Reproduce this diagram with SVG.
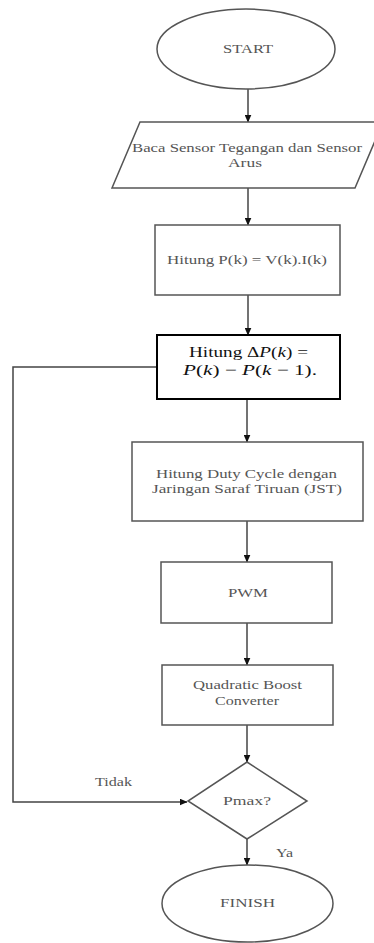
<svg xmlns="http://www.w3.org/2000/svg" width="374" height="943" viewBox="0 0 374 943">
<defs>
<marker id="ah" markerWidth="8" markerHeight="7" refX="7.5" refY="3.5" orient="auto" markerUnits="userSpaceOnUse">
<path d="M0,0 L8,3.5 L0,7 Z" fill="#111"/>
</marker>
<style>
.shape{fill:#fff;stroke:#555;stroke-width:1.5}
.bold{fill:#fff;stroke:#000;stroke-width:2}
.t{font-family:'Liberation Serif','Times New Roman','DejaVu Serif',serif;font-size:12px;fill:#555;text-anchor:middle}
.tb{font-family:'Liberation Serif','Times New Roman','DejaVu Serif',serif;font-size:15px;fill:#111;text-anchor:middle}
.c{fill:none;stroke:#444;stroke-width:1.5}
</style>
</defs>
<rect width="374" height="943" fill="#fff"/>
<g id="connectors">
<path class="c" d="M248,89 V122" marker-end="url(#ah)"/>
<path class="c" d="M248,188 V225" marker-end="url(#ah)"/>
<path class="c" d="M248,295 V335" marker-end="url(#ah)"/>
<path class="c" d="M247,399 V442" marker-end="url(#ah)"/>
<path class="c" d="M247,521 V562" marker-end="url(#ah)"/>
<path class="c" d="M247,623 V665" marker-end="url(#ah)"/>
<path class="c" d="M247,725 V762" marker-end="url(#ah)"/>
<path class="c" d="M247,839 V865" marker-end="url(#ah)"/>
<path class="c" d="M157,367 H13 V802 H187" marker-end="url(#ah)"/>
<text class="t" x="113.5" y="786" textLength="37" lengthAdjust="spacingAndGlyphs">Tidak</text>
<text class="t" x="284.5" y="857" textLength="17" lengthAdjust="spacingAndGlyphs">Ya</text>
</g>
<g id="start">
<ellipse class="shape" cx="246" cy="49" rx="89" ry="40"/>
<text class="t" x="248" y="53" textLength="50" lengthAdjust="spacingAndGlyphs">START</text>
</g>
<g id="input">
<polygon class="shape" points="140,122 383,122 355,188 112,188"/>
<text class="t" x="247" y="152" textLength="230" lengthAdjust="spacingAndGlyphs">Baca Sensor Tegangan dan Sensor</text>
<text class="t" x="245" y="167" textLength="34" lengthAdjust="spacingAndGlyphs">Arus</text>
</g>
<g id="power">
<rect class="shape" x="155" y="225" width="185" height="70"/>
<text class="t" x="247" y="264" textLength="160" lengthAdjust="spacingAndGlyphs">Hitung P(k) = V(k).I(k)</text>
</g>
<g id="deltap">
<rect class="bold" x="157" y="335" width="183" height="64"/>
<text class="tb" x="248.5" y="357" textLength="119" lengthAdjust="spacingAndGlyphs">Hitung Δ<tspan font-style="italic">P</tspan>(<tspan font-style="italic">k</tspan>) =</text>
<text class="tb" x="250" y="375" textLength="134" lengthAdjust="spacingAndGlyphs"><tspan font-style="italic">P</tspan>(<tspan font-style="italic">k</tspan>) − <tspan font-style="italic">P</tspan>(<tspan font-style="italic">k</tspan> − 1).</text>
</g>
<g id="duty">
<rect class="shape" x="132" y="442" width="231" height="79"/>
<text class="t" x="246.5" y="478" textLength="181" lengthAdjust="spacingAndGlyphs">Hitung Duty Cycle dengan</text>
<text class="t" x="247" y="493" textLength="190" lengthAdjust="spacingAndGlyphs">Jaringan Saraf Tiruan (JST)</text>
</g>
<g id="pwm">
<rect class="shape" x="161" y="562" width="171" height="61"/>
<text class="t" x="248" y="597" textLength="40" lengthAdjust="spacingAndGlyphs">PWM</text>
</g>
<g id="qbc">
<rect class="shape" x="162" y="665" width="171" height="60"/>
<text class="t" x="247.5" y="689" textLength="109" lengthAdjust="spacingAndGlyphs">Quadratic Boost</text>
<text class="t" x="247" y="705" textLength="64" lengthAdjust="spacingAndGlyphs">Converter</text>
</g>
<g id="decision">
<polygon class="shape" points="247,762 307,801 247,839 188,801"/>
<text class="t" x="247" y="805" textLength="48" lengthAdjust="spacingAndGlyphs">Pmax?</text>
</g>
<g id="finish">
<ellipse class="shape" cx="247.5" cy="903.5" rx="85.5" ry="38.5"/>
<text class="t" x="247.5" y="907" textLength="55" lengthAdjust="spacingAndGlyphs">FINISH</text>
</g>
</svg>
